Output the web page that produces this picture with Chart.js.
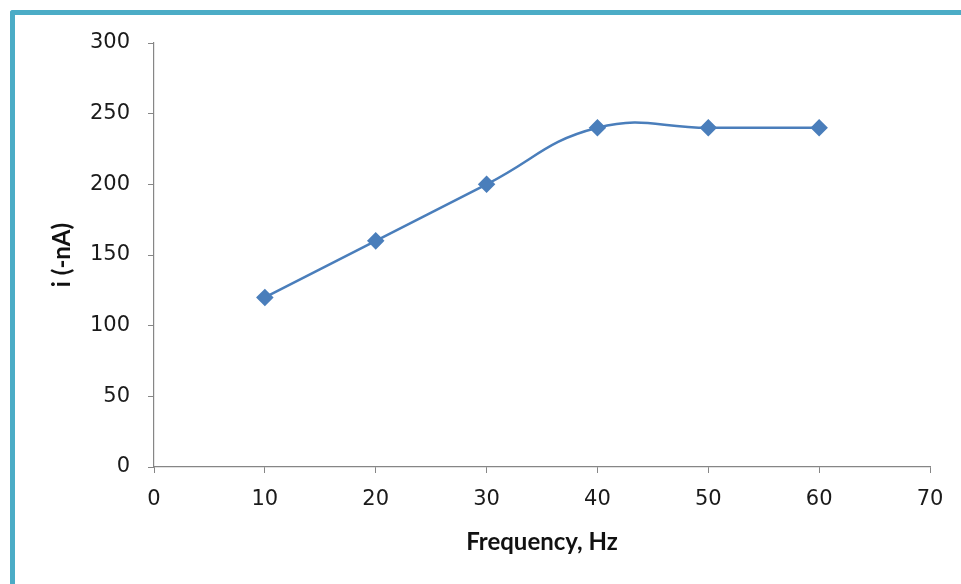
<!DOCTYPE html>
<html>
<head>
<meta charset="utf-8">
<script src="https://cdn.jsdelivr.net/npm/chart.js@4/dist/chart.umd.min.js"></script>
<style>
  html, body { margin: 0; padding: 0; background: #fff; }
  #wrap { position: relative; width: 961px; height: 584px; overflow: hidden; }
  #frame { position: absolute; left: 10px; top: 10px; right: 0; bottom: 0;
           border-top: 5px solid #4BACC6; border-left: 5px solid #4BACC6;
           border-top-left-radius: 3px; }
  canvas { position: absolute; left: 0; top: 0; }
</style>
</head>
<body>
<div id="wrap">
  <div id="frame"></div>
  <canvas id="c" width="961" height="584"></canvas>
</div>
<script>
// Measured current vs. pulse frequency
const frequencies = [10, 20, 30, 40, 50, 60];
const currents = [120, 160, 200, 240, 240, 240];
const xTicks = [0, 10, 20, 30, 40, 50, 60, 70];
const yTicks = [0, 50, 100, 150, 200, 250, 300];

const axisGray = '#868686';
const tickFont = { family: 'DejaVu Sans', size: 21 };
const titleFont = { family: 'Lato', size: 24, weight: 'bold' };

new Chart(document.getElementById('c'), {
  type: 'scatter',
  data: {
    datasets: [{
      data: frequencies.map((f, i) => ({ x: f, y: currents[i] })),
      showLine: true,
      borderColor: '#4A7EBB',
      backgroundColor: '#4A7EBB',
      borderWidth: 2.5,
      tension: 0.45,
      pointStyle: 'rectRot',
      pointRadius: 7,
      pointHoverRadius: 7
    }]
  },
  options: {
    responsive: false,
    animation: false,
    events: [],
    layout: { padding: { top: 43, right: 31, left: 0, bottom: 0 } },
    plugins: { legend: { display: false }, tooltip: { enabled: false } },
    scales: {
      x: {
        type: 'linear',
        min: xTicks[0],
        max: xTicks[xTicks.length - 1],
        afterBuildTicks: s => { s.ticks = xTicks.map(v => ({ value: v })); },
        afterFit: s => { s.height = 117; },
        grid: { drawOnChartArea: false, drawTicks: true, tickLength: 6, color: axisGray },
        border: { color: axisGray, width: 1.2 },
        ticks: { color: '#1a1a1a', font: tickFont, padding: 14 },
        title: {
          display: true,
          text: 'Frequency, Hz',
          color: '#111',
          font: titleFont,
          padding: { top: 0, bottom: 27 }
        }
      },
      y: {
        type: 'linear',
        min: yTicks[0],
        max: yTicks[yTicks.length - 1],
        afterBuildTicks: s => { s.ticks = yTicks.map(v => ({ value: v })); },
        afterFit: s => { s.width = 154; },
        grid: { drawOnChartArea: false, drawTicks: true, tickLength: 6, color: axisGray },
        border: { color: axisGray, width: 1.2 },
        ticks: { color: '#1a1a1a', font: tickFont, padding: 18 },
        title: {
          display: true,
          text: 'i (-nA)',
          color: '#111',
          font: titleFont,
          padding: { top: 48, bottom: 0 }
        }
      }
    }
  }
});
</script>
</body>
</html>
